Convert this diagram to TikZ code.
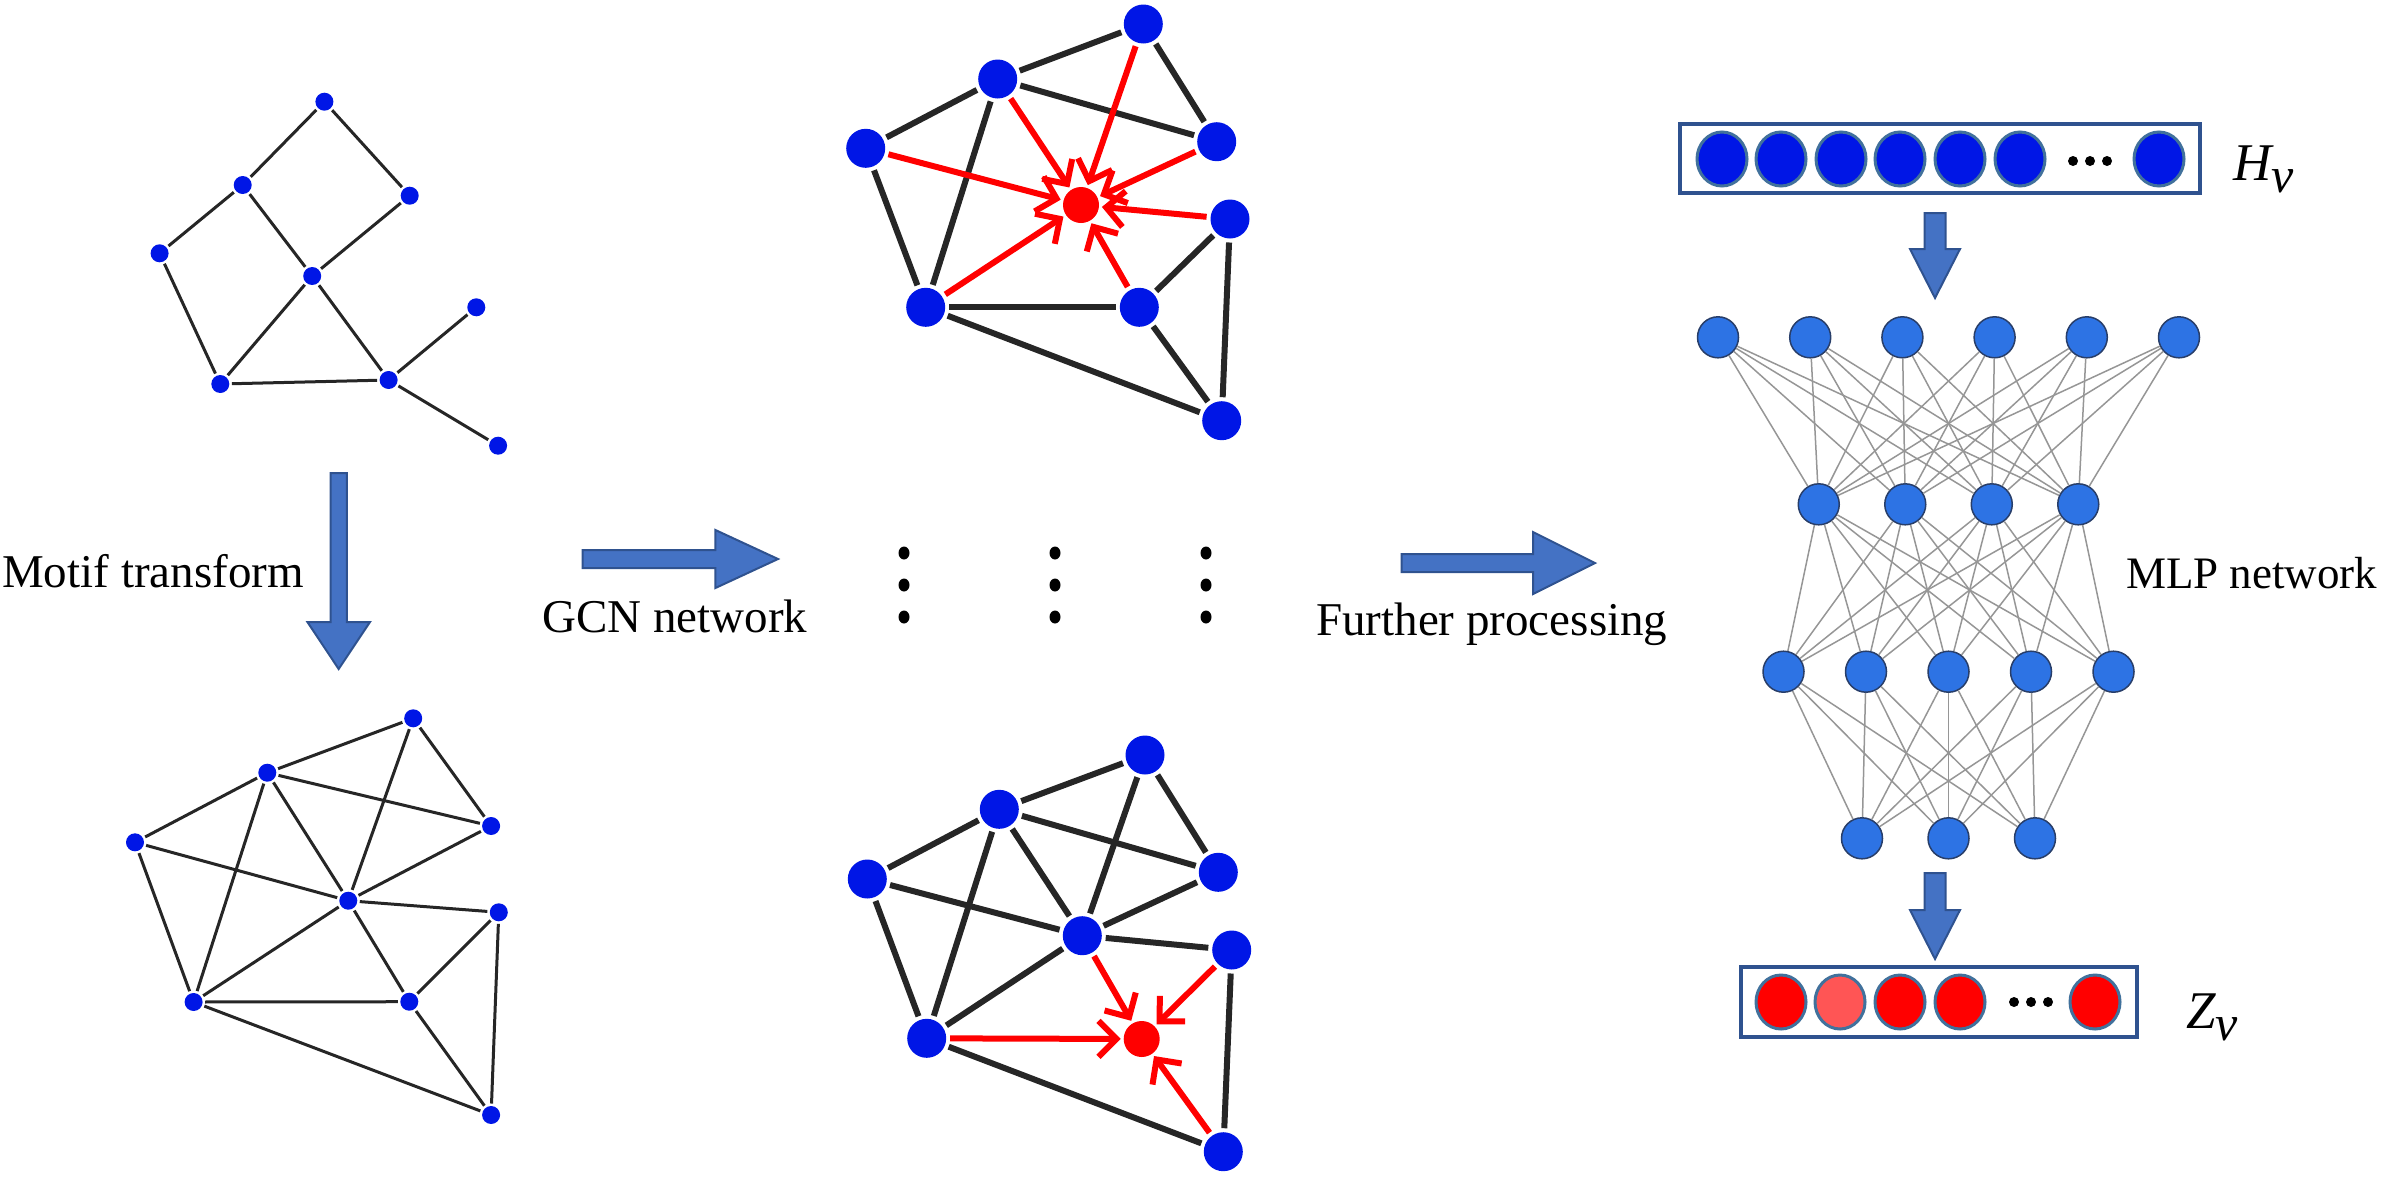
\documentclass[tikz,border=0pt]{standalone}
\usepackage{fontspec}
\setmainfont{Liberation Serif}
\usetikzlibrary{arrows.meta,shapes.geometric}
\definecolor{gblue}{RGB}{0,22,230}
\definecolor{gedge}{RGB}{38,38,38}
\definecolor{nnblue}{RGB}{45,115,228}
\definecolor{nnborder}{RGB}{40,62,105}
\definecolor{nnline}{RGB}{150,150,150}
\definecolor{arrfill}{RGB}{68,114,196}
\definecolor{arrdraw}{RGB}{47,82,143}
\definecolor{vecborder}{RGB}{65,113,156}
\definecolor{boxborder}{RGB}{47,82,143}
\definecolor{lightred}{RGB}{255,85,85}
\newcommand{\veclabel}[2]{{\fontsize{53}{60}\selectfont\itshape #1}\raisebox{-12.5pt}{\fontsize{50}{52}\selectfont\itshape #2}}
\begin{document}
\begin{tikzpicture}[x=1pt,y=-1pt,
  sdot/.style={circle,fill=gblue,minimum size=18pt,inner sep=0pt,outer sep=2.5pt},
  sedge/.style={draw=gedge,line width=3pt},
  bdot/.style={circle,fill=gblue,minimum size=39pt,inner sep=0pt,outer sep=4pt},
  rdot/.style={circle,fill=red,minimum size=36pt,inner sep=0pt,outer sep=3pt},
  bedge/.style={draw=gedge,line width=6pt},
  redarr/.style={draw=red,line width=6pt,-{Straight Barb[length=18pt,width=36pt]}},
  vdot/.style={ellipse,fill=black,minimum width=11pt,minimum height=13pt,inner sep=0pt},
  nn/.style={circle,fill=nnblue,draw=nnborder,line width=1.5pt,minimum size=41pt,inner sep=0pt},
  nnedge/.style={draw=nnline,line width=1.5pt},
  blk/.style={fill=arrfill,draw=arrdraw,line width=2pt,line join=miter},
  vecbox/.style={draw=boxborder,line width=4pt,fill=white},
  vcell/.style={ellipse,draw=vecborder,line width=3pt,minimum width=50pt,minimum height=54pt,inner sep=0pt},
  smalldot/.style={circle,fill=black,minimum size=10pt,inner sep=0pt},
  lbl/.style={inner sep=0pt,font=\fontsize{47}{56}\selectfont}
]
\useasboundingbox (0,0) rectangle (2382,1176);

% ---------- top-left original graph ----------
\node[sdot] (a1) at (324.4,101.7) {};
\node[sdot] (a2) at (242.7,185) {};
\node[sdot] (a3) at (409.7,195.7) {};
\node[sdot] (a4) at (159.6,253.3) {};
\node[sdot] (a5) at (312.2,276) {};
\node[sdot] (a6) at (476.3,307.3) {};
\node[sdot] (a7) at (220.3,384) {};
\node[sdot] (a8) at (388.6,380) {};
\node[sdot] (a9) at (498.1,445.7) {};
\foreach \u/\v in {a1/a2,a1/a3,a2/a4,a2/a5,a3/a5,a4/a7,a5/a7,a5/a8,a7/a8,a8/a6,a8/a9}
  \draw[sedge] (\u) -- (\v);

% ---------- bottom-left motif graph ----------
\node[sdot] (b1) at (413.2,718.3) {};
\node[sdot] (b2) at (267.3,772.7) {};
\node[sdot] (b3) at (491.1,826) {};
\node[sdot] (b4) at (135,842.3) {};
\node[sdot] (b5) at (348.3,900.7) {};
\node[sdot] (b6) at (498.8,912.3) {};
\node[sdot] (b7) at (193.6,1002) {};
\node[sdot] (b8) at (409.3,1001.7) {};
\node[sdot] (b9) at (491.1,1115) {};
\foreach \u/\v in {b1/b2,b1/b3,b1/b5,b2/b4,b2/b3,b2/b5,b2/b7,b4/b5,b4/b7,b5/b3,b5/b6,b5/b7,b5/b8,b7/b8,b7/b9,b8/b6,b8/b9,b6/b9}
  \draw[sedge] (\u) -- (\v);

% ---------- middle top GCN graph ----------
\node[bdot] (c1) at (1143.3,24) {};
\node[bdot] (c2) at (997.7,79) {};
\node[bdot] (c3) at (1216.7,141.7) {};
\node[bdot] (c4) at (865.7,148.3) {};
\node[rdot] (cR) at (1081,205) {};
\node[bdot] (c6) at (1230,219) {};
\node[bdot] (c7) at (925.7,307.3) {};
\node[bdot] (c8) at (1139.3,307.3) {};
\node[bdot] (c9) at (1221.7,420.7) {};
\foreach \u/\v in {c1/c2,c1/c3,c2/c4,c2/c3,c2/c7,c4/c7,c7/c8,c7/c9,c8/c6,c8/c9,c6/c9}
  \draw[bedge] (\u) -- (\v);
\foreach \u in {c1,c2,c3,c4,c6,c7,c8}
  \draw[redarr] (\u) -- (cR);

% ---------- middle bottom GCN graph ----------
\node[bdot] (d1) at (1145,755) {};
\node[bdot] (d2) at (999.3,809.3) {};
\node[bdot] (d3) at (1218.3,872.3) {};
\node[bdot] (d4) at (867.3,879) {};
\node[bdot] (d5) at (1082.3,935.7) {};
\node[bdot] (d6) at (1231.7,950) {};
\node[bdot] (d7) at (926.7,1038.3) {};
\node[rdot] (dR) at (1141.7,1039) {};
\node[bdot] (d9) at (1223.3,1151.7) {};
\foreach \u/\v in {d1/d2,d1/d3,d1/d5,d2/d4,d2/d3,d2/d7,d2/d5,d4/d5,d4/d7,d5/d3,d5/d6,d5/d7,d7/d9,d6/d9}
  \draw[bedge] (\u) -- (\v);
\foreach \u in {d5,d6,d7,d9}
  \draw[redarr] (\u) -- (dR);

% ---------- vertical ellipsis dots ----------
\foreach \x [count=\k] in {904,1055,1206}
  \foreach \y [count=\m] in {553,585,617}
    \node[vdot] (e\k\m) at (\x,\y) {};

% ---------- block arrows ----------
\path[blk] (330.6,473) -- (346.9,473) -- (346.9,622) -- (370,622) -- (338.7,669)
  -- (307.4,622) -- (330.6,622) -- cycle;
\path[blk] (582.6,550) -- (715.4,550) -- (715.4,530) -- (778,559) -- (715.4,588)
  -- (715.4,568) -- (582.6,568) -- cycle;
\path[blk] (1401.7,554) -- (1533,554) -- (1533,532) -- (1595,563) -- (1533,594)
  -- (1533,572) -- (1401.7,572) -- cycle;
\path[blk] (1924.5,213) -- (1945.5,213) -- (1945.5,249) -- (1960,249) -- (1935,298)
  -- (1910,249) -- (1924.5,249) -- cycle;
\path[blk] (1924.5,873) -- (1945.5,873) -- (1945.5,910) -- (1960,910) -- (1935,959)
  -- (1910,910) -- (1924.5,910) -- cycle;

% ---------- labels ----------
\node[lbl,anchor=base west] (tmotif) at (2,587) {Motif transform};
\node[lbl,anchor=base west] (tgcn) at (542,632) {GCN network};
\node[lbl,anchor=base west] (tfur) at (1316,635) {Further processing};
\node[lbl,anchor=base west,font=\fontsize{45}{54}\selectfont] (tmlp) at (2126,588) {MLP network};
\node[lbl,anchor=base west] (th) at (2233,180) {\veclabel{H}{v}};
\node[lbl,anchor=base west] (tz) at (2186,1028) {\veclabel{Z}{v}};

% ---------- H vector ----------
\node[vecbox,minimum width=520pt,minimum height=69pt,inner sep=0pt] (hbox) at (1940,158.5) {};
\foreach \x [count=\k] in {1722,1781,1841,1900,1960,2020,2159}
  \node[vcell,fill=gblue] (hc\k) at (\x,159) {};
\foreach \x [count=\k] in {2073,2090,2107}
  \node[smalldot] (hd\k) at (\x,161) {};

% ---------- Z vector ----------
\node[vecbox,minimum width=396pt,minimum height=70pt,inner sep=0pt] (zbox) at (1939,1002) {};
\node[vcell,fill=red] (zc1) at (1781,1002) {};
\node[vcell,fill=lightred] (zc2) at (1840,1002) {};
\node[vcell,fill=red] (zc3) at (1900,1002) {};
\node[vcell,fill=red] (zc4) at (1960,1002) {};
\node[vcell,fill=red] (zc5) at (2095,1002) {};
\foreach \x [count=\k] in {2014,2031,2048}
  \node[smalldot] (zd\k) at (\x,1002) {};

% ---------- MLP ----------
\foreach \i in {1,...,6} \node[nn] (i\i) at ({1948.5+92.2*(\i-3.5)},337.3) {};
\foreach \i in {1,...,4} \node[nn] (p\i) at ({1948.5+86.5*(\i-2.5)},504.3) {};
\foreach \i in {1,...,5} \node[nn] (q\i) at ({1948.5+82.5*(\i-3)},671.7) {};
\foreach \i in {1,...,3} \node[nn] (o\i) at ({1948.5+86.5*(\i-2)},838.3) {};
\foreach \i in {1,...,6} \foreach \j in {1,...,4} \draw[nnedge] (i\i) -- (p\j);
\foreach \i in {1,...,4} \foreach \j in {1,...,5} \draw[nnedge] (p\i) -- (q\j);
\foreach \i in {1,...,5} \foreach \j in {1,...,3} \draw[nnedge] (q\i) -- (o\j);
\end{tikzpicture}
\end{document}
